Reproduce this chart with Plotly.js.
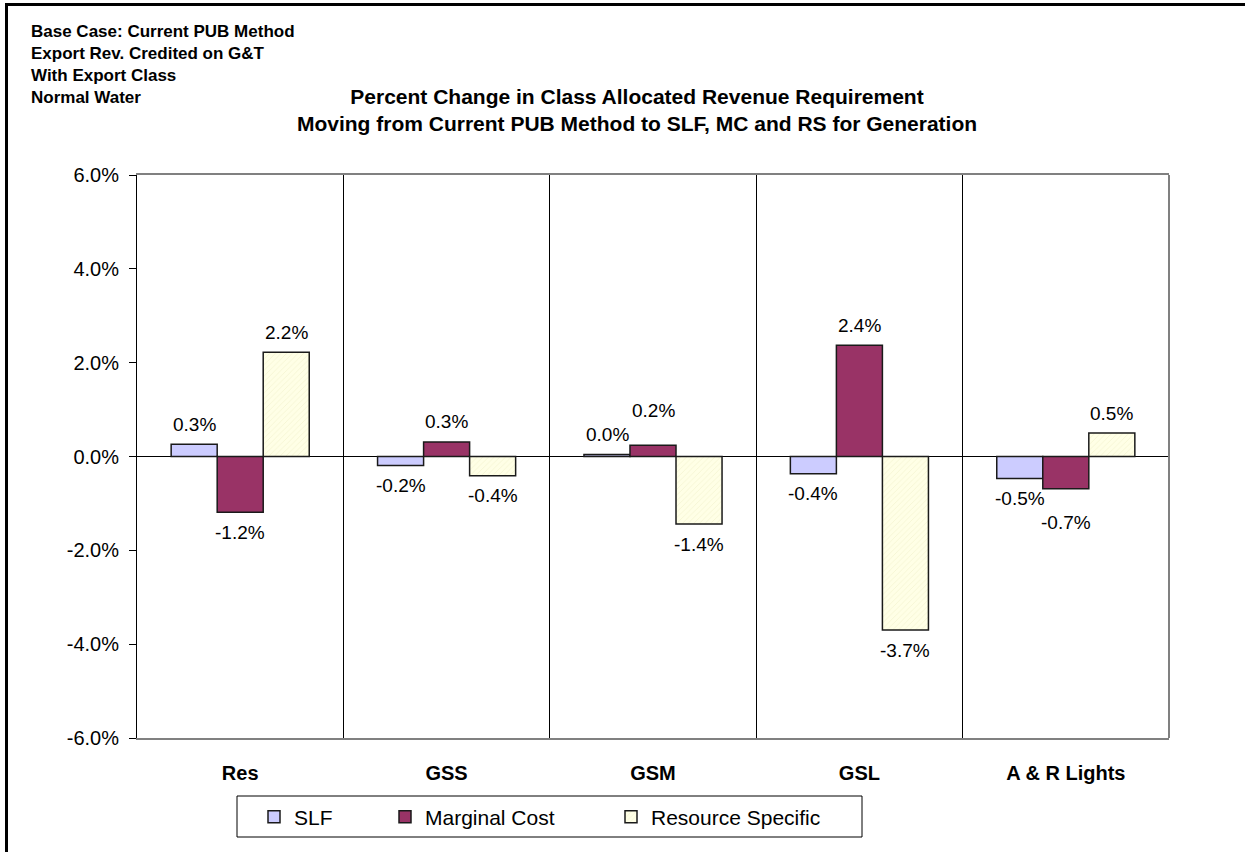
<!DOCTYPE html>
<html>
<head>
<meta charset="utf-8">
<script src="https://cdn.plot.ly/plotly-3.0.1.min.js"></script>
<style>
  html, body { margin: 0; padding: 0; background: #fff; }
  #chart { position: absolute; left: 0; top: 0; width: 1245px; height: 852px; }
  #frame { position: absolute; left: 5px; top: 3px; width: 1400px; height: 1000px;
           border-left: 3px solid #000; border-top: 3px solid #000; pointer-events: none; }
</style>
</head>
<body>
<div id="chart"></div>
<div id="frame"></div>
<script>
const categories = ["Res", "GSS", "GSM", "GSL", "A & R Lights"];
const seriesNames = ["SLF", "Marginal Cost", "Resource Specific"];
const slf = [0.26, -0.19, 0.04, -0.37, -0.47];
const marginalCost = [-1.19, 0.31, 0.24, 2.37, -0.69];
const resourceSpecific = [2.22, -0.41, -1.44, -3.70, 0.50];
const yTickVals = [-6, -4, -2, 0, 2, 4, 6];
const noteLines = ["Base Case: Current PUB Method", "Export Rev. Credited on G&T", "With Export Class", "Normal Water"];
const titleLines = ["Percent Change in Class Allocated Revenue Requirement",
                    "Moving from Current PUB Method to SLF, MC and RS for Generation"];

const FONT = "Arial, 'Liberation Sans', sans-serif";
const allSeries = [slf, marginalCost, resourceSpecific];
const colors = ["#CCCCFF", "#993366", "#FFFFE6"];
const legendIds = ["legend", "legend2", "legend3"];

// plot geometry (pixels)
const M = { l: 137, r: 76, t: 175, b: 114 };
const W = 1245, H = 852;
const plotW = W - M.l - M.r, plotH = H - M.t - M.b;
const yMin = -6, yMax = 6;
const pxPerUnit = plotH / (yMax - yMin);
const px2paperX = px => (px - M.l) / plotW;
const px2paperY = py => (H - M.b - py) / plotH;

const traces = allSeries.map((vals, i) => {
  const t = {
    type: "bar",
    name: seriesNames[i],
    x: categories,
    y: vals,
    legend: legendIds[i],
    marker: { color: colors[i], line: { color: "#1a1a1a", width: 1.5 } },
    hoverinfo: "x+y+name"
  };
  if (i === 2) {
    t.marker.pattern = { shape: "/", fgcolor: "#F4F4D2", bgcolor: "#FFFFE6", size: 4, solidity: 0.2 };
  }
  return t;
});

// data labels: outside the bar end, nudged away from a crowded neighbour (as Excel does)
const barOffsetPx = 46, baseShift = 20, minSep = 24;
const annotations = [];
categories.forEach((c, j) => {
  let prev = null;
  allSeries.forEach((vals, i) => {
    const v = vals[j];
    const dir = v >= 0 ? 1 : -1;
    let shift = baseShift;
    const labelPos = v * pxPerUnit + dir * shift;
    if (prev && prev.dir === dir && Math.abs(labelPos - prev.pos) < minSep) {
      shift = Math.abs(prev.pos + dir * minSep - v * pxPerUnit);
    }
    const pos = v * pxPerUnit + dir * shift;
    prev = { dir: dir, pos: pos };
    annotations.push({
      x: c, y: v, xref: "x", yref: "y",
      xshift: (i - 1) * barOffsetPx,
      yshift: dir * shift,
      text: v.toFixed(1) + "%",
      showarrow: false,
      font: { family: FONT, size: 19, color: "#000" }
    });
  });
});
annotations.push({
  xref: "paper", yref: "paper",
  x: px2paperX(29), y: px2paperY(20),
  xanchor: "left", yanchor: "top", align: "left",
  text: noteLines.map(s => "<b>" + s + "</b>").join("<br>"),
  showarrow: false,
  font: { family: FONT, size: 17, color: "#000" }
});

const legendTextX = [295, 426, 652];
const legendCenterY = 817;
const legendBase = {
  orientation: "h", xanchor: "left", yanchor: "middle",
  borderwidth: 0, bgcolor: "rgba(0,0,0,0)",
  font: { family: FONT, size: 21, color: "#000" }
};

const layout = {
  width: W, height: H,
  margin: M,
  paper_bgcolor: "#fff", plot_bgcolor: "#fff",
  font: { family: FONT, color: "#000" },
  title: {
    text: "<b>" + titleLines.join("<br>") + "</b>",
    font: { family: FONT, size: 21, color: "#000" },
    xref: "container", x: 637 / W, xanchor: "center",
    yref: "container", y: 1 - 104 / H, yanchor: "top"
  },
  barmode: "group",
  bargap: 0.331,
  bargroupgap: 0,
  showlegend: true,
  xaxis: {
    type: "category",
    showline: true, linecolor: "#808080", linewidth: 2, mirror: true,
    showgrid: true, gridcolor: "#000", gridwidth: 1,
    tickson: "boundaries", ticks: "",
    ticklabelstandoff: 16,
    tickfont: { family: FONT, size: 20, color: "#000", weight: "bold" },
    zeroline: false, fixedrange: true
  },
  yaxis: {
    range: [yMin, yMax],
    tickvals: yTickVals,
    ticktext: yTickVals.map(v => v.toFixed(1) + "%"),
    ticks: "outside", ticklen: 7, tickcolor: "#000", tickwidth: 1,
    ticklabelstandoff: 6,
    showline: true, linecolor: "#000", linewidth: 1,
    showgrid: false,
    zeroline: true, zerolinecolor: "#000", zerolinewidth: 1,
    tickfont: { family: FONT, size: 20, color: "#000" },
    fixedrange: true
  },
  shapes: [
    { type: "line", xref: "paper", yref: "paper", x0: 1, x1: 1, y0: 0, y1: 1,
      line: { color: "#808080", width: 2 } },
    { type: "rect", xref: "paper", yref: "paper",
      x0: px2paperX(237), x1: px2paperX(862), y0: px2paperY(837), y1: px2paperY(796),
      line: { color: "#000", width: 1 }, fillcolor: "rgba(0,0,0,0)" }
  ],
  annotations: annotations
};
legendIds.forEach((id, i) => {
  layout[id] = Object.assign({}, legendBase, {
    x: px2paperX(legendTextX[i] - 41), y: px2paperY(legendCenterY)
  });
});

Plotly.newPlot("chart", traces, layout, { displayModeBar: false, staticPlot: true });
</script>
</body>
</html>
